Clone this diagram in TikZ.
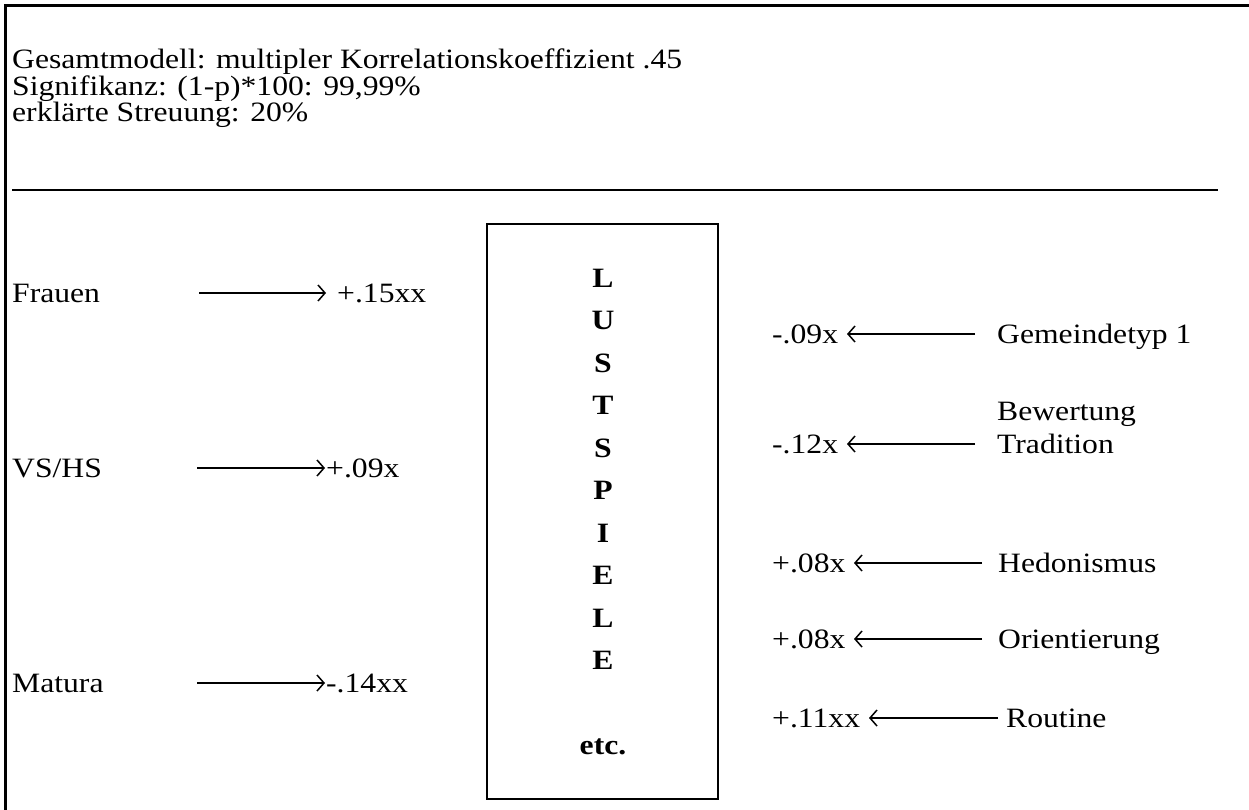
\documentclass[tikz,border=0pt]{standalone}
\usepackage{fontspec}
\setmainfont{Liberation Serif}[FakeStretch=1.13]
\usetikzlibrary{arrows.meta}
\begin{document}
\begin{tikzpicture}[x=1pt,y=-1pt,
  txt/.style={anchor=base west,inner sep=0pt,font=\fontsize{28}{32}\selectfont},
  letter/.style={anchor=base,inner sep=0pt,font=\fontsize{28}{32}\selectfont\bfseries},
  arr/.style={line width=1.5pt,-{Straight Barb[length=7pt,width=16pt,line width=1.5pt]}}]
\useasboundingbox (0,0) rectangle (1249,810);
\fill[white] (0,0) rectangle (1249,810);
% outer frame (only top and left edges visible)
\draw[line width=2.2pt] (5.5,815) -- (5.5,5.5) -- (1255,5.5);
% header
\node[txt] (h1) at (12,69) {Gesamtmodell: multipler Korrelationskoeffizient .45};
\node[txt] (h2) at (12,96) {Signifikanz: (1-p)*100: 99,99\%};
\node[txt] (h3) at (12,122) {erklärte Streuung: 20\%};
\coordinate (sepL) at (12,190.5);
\coordinate (sepR) at (1218,190.5);
\draw[line width=2pt] (sepL) -- (sepR);
% central box
\node[draw,line width=2pt,minimum width=231pt,minimum height=575pt,inner sep=0pt] (box) at (602.5,511.5) {};
\foreach \l/\y [count=\i] in {L/287,U/329.5,S/372,T/414.5,S/457,P/499.5,I/542,E/584.5,L/627,E/669.5}{
  \node[letter] (let\i) at (603,\y) {\l};
}
\node[letter] (etc) at (603,754.5) {etc.};
% left side
\node[txt] (frauen) at (12,302) {Frauen};
\node[txt] (v15) at (337,302) {+.15xx};
\coordinate (a1s) at (199,293); \coordinate (a1e) at (326,293);
\draw[arr] (a1s) -- (a1e);
\node[txt] (vshs) at (12,477) {VS/HS};
\node[txt] (v09) at (326,477) {+.09x};
\coordinate (a2s) at (197,468); \coordinate (a2e) at (325,468);
\draw[arr] (a2s) -- (a2e);
\node[txt] (matura) at (12,692) {Matura};
\node[txt] (v14) at (326,692) {-.14xx};
\coordinate (a3s) at (197,683); \coordinate (a3e) at (325,683);
\draw[arr] (a3s) -- (a3e);
% right side
\node[txt] (v09n) at (772,343) {-.09x};
\node[txt] (gem) at (997,343) {Gemeindetyp 1};
\coordinate (b1s) at (975,334); \coordinate (b1e) at (847,334);
\draw[arr] (b1s) -- (b1e);
\node[txt] (bew) at (997,420) {Bewertung};
\node[txt] (v12) at (772,453) {-.12x};
\node[txt] (trad) at (997,453) {Tradition};
\coordinate (b2s) at (975,444); \coordinate (b2e) at (847,444);
\draw[arr] (b2s) -- (b2e);
\node[txt] (v08a) at (772,572) {+.08x};
\node[txt] (hed) at (998,572) {Hedonismus};
\coordinate (b3s) at (982,563); \coordinate (b3e) at (854,563);
\draw[arr] (b3s) -- (b3e);
\node[txt] (v08b) at (772,648) {+.08x};
\node[txt] (ori) at (998,648) {Orientierung};
\coordinate (b4s) at (982,639); \coordinate (b4e) at (854,639);
\draw[arr] (b4s) -- (b4e);
\node[txt] (v11) at (772,727) {+.11xx};
\node[txt] (rou) at (1006,727) {Routine};
\coordinate (b5s) at (998,718); \coordinate (b5e) at (869,718);
\draw[arr] (b5s) -- (b5e);
\end{tikzpicture}
\end{document}
